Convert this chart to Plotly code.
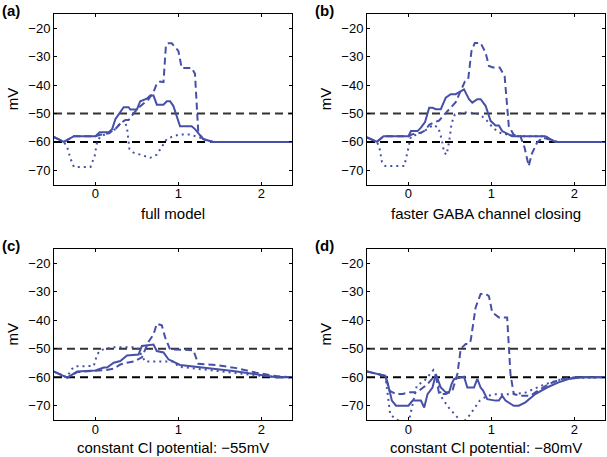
import plotly.graph_objects as go

# ---------------- data (time in s, membrane potential in mV) ----------------
PANEL_LABELS = ["(a)", "(b)", "(c)", "(d)"]
PANEL_TITLES = ["full model", "faster GABA channel closing",
                "constant Cl potential: \u221255mV", "constant Cl potential: \u221280mV"]
THRESHOLDS = [-50, -60]
X_TICKS = [0, 1, 2]
Y_TICKS = [-70, -60, -50, -40, -30, -20]

A_t_solid = [-0.5, -0.38, -0.26, 0.0, 0.05, 0.16, 0.2, 0.24, 0.34, 0.4, 0.42, 0.5, 0.54, 0.62, 0.66, 0.7,
             0.74, 0.82, 0.86, 0.9, 0.94, 1.02, 1.16, 1.2, 1.3, 1.42, 2.37]
A_v_solid = [-58.3, -60, -58, -58, -56.6, -56.6, -55.6, -52, -47.8, -47.8, -48.6, -48.6, -45.7, -44.8, -43.7,
             -43.7, -46.9, -46.9, -45.7, -45.7, -47.4, -54.5, -54.5, -55.5, -59, -60, -60]
A_t_dash = [-0.5, -0.38, -0.26, 0.0, 0.06, 0.16, 0.24, 0.3, 0.36, 0.4, 0.46, 0.52, 0.58, 0.64, 0.7, 0.74,
            0.78, 0.82, 0.85, 0.88, 0.92, 0.96, 1.0, 1.04, 1.16, 1.2, 1.24, 1.3, 1.42, 2.37]
A_v_dash = [-58.3, -60, -58, -58, -57.5, -57, -55.5, -53.5, -52.3, -52.3, -50, -48, -46.5, -45, -42.5, -39.5,
            -38.8, -39, -26, -25.3, -25.3, -26.5, -28, -34, -34, -36, -56.8, -59, -60, -60]
A_t_dot = [-0.5, -0.38, -0.34, -0.3, -0.26, -0.06, -0.01, 0.02, 0.06, 0.16, 0.24, 0.3, 0.35, 0.38, 0.41,
           0.46, 0.54, 0.66, 0.74, 0.8, 0.86, 0.94, 1.02, 1.14, 1.26, 1.38, 2.37]
A_v_dot = [-58.3, -60, -62, -66, -68.8, -68.8, -65, -60, -58, -57, -55.5, -53.5, -52.5, -55, -62.5,
           -63.8, -64.5, -65.6, -64.5, -61.5, -59, -58, -57.4, -57.4, -58.5, -60, -60]

B_t_solid = [-0.5, -0.38, -0.3, 0.0, 0.03, 0.11, 0.15, 0.2, 0.25, 0.29, 0.33, 0.39, 0.45, 0.51, 0.57, 0.67,
             0.73, 0.77, 0.83, 0.87, 0.93, 0.99, 1.05, 1.09, 1.13, 1.25, 1.33, 1.65, 1.77, 2.37]
B_v_solid = [-58.4, -60, -58, -58, -56.2, -56.2, -55, -53, -48, -48, -48.5, -48.5, -44.4, -43.2, -43.2, -41.5,
             -45, -46.2, -45, -45, -47.3, -52.6, -54.2, -54.2, -56.2, -58, -58, -58, -60, -60]
B_t_dash = [-0.5, -0.38, -0.3, 0.0, 0.05, 0.15, 0.2, 0.25, 0.3, 0.37, 0.43, 0.49, 0.57, 0.63, 0.68, 0.72,
            0.76, 0.8, 0.87, 0.93, 0.97, 1.02, 1.1, 1.16, 1.21, 1.27, 1.35, 1.4, 1.45, 1.49, 1.55, 1.62, 1.8, 2.37]
B_v_dash = [-58.4, -60, -58, -58, -57.3, -56.8, -56, -54, -53.2, -52.5, -50.5, -48.5, -46, -42, -38.8, -38,
            -28, -25.2, -25.2, -28.6, -33.3, -33.8, -33.8, -37, -54.5, -57.5, -58, -62, -68.5, -64, -60.3,
            -58.5, -60, -60]
B_t_dot = [-0.5, -0.38, -0.35, -0.32, -0.28, -0.05, 0.0, 0.03, 0.1, 0.2, 0.3, 0.36, 0.4, 0.43, 0.46, 0.49,
           0.52, 0.56, 0.65, 0.75, 0.85, 0.93, 1.0, 1.06, 1.12, 1.2, 1.3, 1.65, 1.77, 2.37]
B_v_dot = [-58.4, -60, -62, -67, -68.5, -68.5, -62, -58, -57.5, -56, -54, -55, -59, -63.8, -64.5, -60,
           -53.5, -50.3, -49.7, -49.7, -50.2, -52, -54.4, -56, -57, -57.5, -58, -58, -60, -60]

C_t_solid = [-0.5, -0.34, -0.22, 0.0, 0.1, 0.14, 0.22, 0.3, 0.38, 0.52, 0.56, 0.66, 0.7, 0.74, 0.82, 0.88,
             1.02, 1.66, 1.94, 2.18, 2.37]
C_v_solid = [-58, -60.1, -58, -57.6, -56.6, -56.6, -54.9, -54.3, -52.4, -52, -49, -48.5, -48.5, -50.8, -51.3,
             -53.7, -55.7, -57.8, -59, -60, -60]
C_t_dash = [-0.5, -0.34, -0.22, 0.0, 0.15, 0.22, 0.3, 0.38, 0.46, 0.56, 0.6, 0.64, 0.7, 0.74, 0.8, 0.84,
            0.9, 1.18, 1.24, 1.46, 1.7, 1.94, 2.18, 2.37]
C_v_dash = [-58, -60.1, -58.2, -57.8, -57.4, -57, -55.5, -54.9, -54.5, -53, -50, -47.5, -45, -41.2, -41.8,
            -46, -50.2, -50.5, -55.3, -55.7, -56.8, -58.4, -59.6, -60]
C_t_dot = [-0.5, -0.34, -0.3, -0.25, -0.02, 0.02, 0.06, 0.2, 0.5, 0.55, 0.6, 0.95, 1.0, 2.0, 2.2, 2.37]
C_v_dot = [-58, -60.1, -57.5, -56.2, -56, -52, -50.5, -49.5, -49.5, -52, -54.5, -54.5, -56.3, -59.5, -60, -60]

D_t_solid = [-0.5, -0.28, -0.25, -0.2, -0.15, 0.0, 0.05, 0.15, 0.19, 0.23, 0.29, 0.33, 0.39, 0.45, 0.49,
             0.52, 0.55, 0.67, 0.71, 0.79, 0.83, 0.87, 0.9, 0.95, 1.05, 1.09, 1.13, 1.17, 1.27, 1.33, 1.41,
             1.53, 1.67, 1.81, 1.93, 2.09, 2.37]
D_v_solid = [-58, -59.5, -62, -68.2, -70, -70, -68.2, -68.2, -70.6, -65.9, -63.6, -58.9, -63.6, -65.3, -65.3,
             -62.4, -60.6, -59.8, -63.6, -63.6, -60.6, -63.6, -64.7, -67.7, -68.2, -68.2, -66.5, -68.2, -70,
             -70, -68.8, -65.9, -63.6, -61.8, -60.6, -60, -60]
D_t_dash = [-0.5, -0.28, -0.23, -0.15, -0.07, 0.0, 0.09, 0.13, 0.23, 0.3, 0.33, 0.37, 0.45, 0.53, 0.59,
            0.63, 0.69, 0.73, 0.75, 0.81, 0.87, 0.93, 0.97, 1.01, 1.09, 1.19, 1.23, 1.27, 1.35, 1.47, 1.53,
            1.69, 1.85, 2.01, 2.37]
D_v_dash = [-58, -59.5, -64.7, -65.9, -65.9, -65.3, -65.3, -64.7, -62.4, -60, -59.5, -65.9, -65.9, -64.7,
            -58.9, -50, -48.3, -48.3, -47.2, -35.5, -30.8, -30.8, -31.5, -37.2, -39, -39, -58.9, -65.9,
            -66.5, -66.5, -65.3, -62.4, -60.6, -60, -60]
D_t_dot = [-0.5, -0.28, -0.25, -0.22, -0.18, -0.08, 0.0, 0.05, 0.1, 0.2, 0.3, 0.34, 0.4, 0.48, 0.57, 0.65,
           0.72, 0.8, 0.86, 0.95, 1.05, 1.2, 1.4, 1.6, 1.8, 2.0, 2.37]
D_v_dot = [-58, -59.5, -66, -73, -74, -76, -76, -70, -63, -61, -57.5, -60, -67, -70.5, -73.5, -76, -74,
           -70.5, -68.2, -66.5, -66, -66, -65.5, -63, -61, -60.2, -60]

PANELS = [
    [(A_t_solid, A_v_solid), (A_t_dash, A_v_dash), (A_t_dot, A_v_dot)],
    [(B_t_solid, B_v_solid), (B_t_dash, B_v_dash), (B_t_dot, B_v_dot)],
    [(C_t_solid, C_v_solid), (C_t_dash, C_v_dash), (C_t_dot, C_v_dot)],
    [(D_t_solid, D_v_solid), (D_t_dash, D_v_dash), (D_t_dot, D_v_dot)],
]

# ---------------- layout / style ----------------
W, H = 607, 457
LINE_COLOR = "rgb(70,80,168)"
DASHES = ["solid", "7px,4px", "2px,4px"]
FONT = "Liberation Sans, Arial, Helvetica, sans-serif"
X_RANGE = [-0.5, 2.37]
Y_RANGE = [-75, -15]

# pixel boxes (left, right, top, bottom)
BOXES = [(54, 292, 14, 184.5), (367, 605, 14, 184.5), (54, 292, 249, 420), (367, 605, 249, 420)]
TITLE_SHIFT = [-29, -29, -27.5, -27.5]

fig = go.Figure()
layout = dict(
    width=W, height=H, margin=dict(l=0, r=0, t=0, b=0, autoexpand=False),
    paper_bgcolor="white", plot_bgcolor="white", showlegend=False,
    font=dict(family=FONT, size=13, color="black"),
)
shapes = []
annotations = []

for i, series in enumerate(PANELS):
    n = "" if i == 0 else str(i + 1)
    xa, ya = "x" + n, "y" + n
    l, r, t, b = BOXES[i]
    layout["xaxis" + n] = dict(
        domain=[l / W, r / W], range=X_RANGE, anchor=ya, automargin=False,
        tickvals=X_TICKS, ticks="inside", ticklen=3, tickcolor="black", ticklabelstandoff=-3,
        showline=True, linecolor="black", linewidth=1, mirror="allticks",
        showgrid=False, zeroline=False, tickfont=dict(size=13),
    )
    layout["yaxis" + n] = dict(
        domain=[1 - b / H, 1 - t / H], range=Y_RANGE, anchor=xa, automargin=False,
        tickvals=Y_TICKS, ticks="inside", ticklen=3, tickcolor="black",
        showline=True, linecolor="black", linewidth=1, mirror="allticks",
        showgrid=False, zeroline=False, tickfont=dict(size=13),
    )
    for thr, col in zip(THRESHOLDS, ["#333333", "#000000"]):
        shapes.append(dict(type="line", xref=xa + " domain", yref=ya, x0=0, x1=1, y0=thr, y1=thr,
                           line=dict(color=col, width=2, dash="8px,5px"), layer="below"))
    for (tx, vy), dash in zip(series, DASHES):
        fig.add_trace(go.Scatter(x=tx, y=vy, mode="lines", xaxis=xa, yaxis=ya,
                                 line=dict(color=LINE_COLOR, width=2, dash=dash, shape="linear"),
                                 hoverinfo="skip"))
    # panel label
    annotations.append(dict(text="<b>" + PANEL_LABELS[i] + "</b>", xref="paper", yref="paper",
                            x=(l - 54) / W, y=1 - (t - 14) / H, xanchor="left", yanchor="top",
                            showarrow=False, font=dict(size=15, family=FONT)))
    # x-axis title
    annotations.append(dict(text=PANEL_TITLES[i], xref=xa + " domain", yref=ya + " domain",
                            x=0.5, y=0, xanchor="center", yanchor="middle", yshift=TITLE_SHIFT[i],
                            showarrow=False, borderpad=0, font=dict(size=15, family=FONT)))
    # y-axis title
    annotations.append(dict(text="mV", xref=xa + " domain", yref=ya + " domain",
                            x=0, y=0.5, xanchor="center", yanchor="middle", xshift=-42, textangle=-90,
                            showarrow=False, font=dict(size=15, family=FONT)))

layout["shapes"] = shapes
layout["annotations"] = annotations
fig.update_layout(**layout)
fig.write_html("out.html", config={"displayModeBar": False, "staticPlot": True},
               post_script="document.body.style.margin='0';document.body.style.overflow='hidden';")
